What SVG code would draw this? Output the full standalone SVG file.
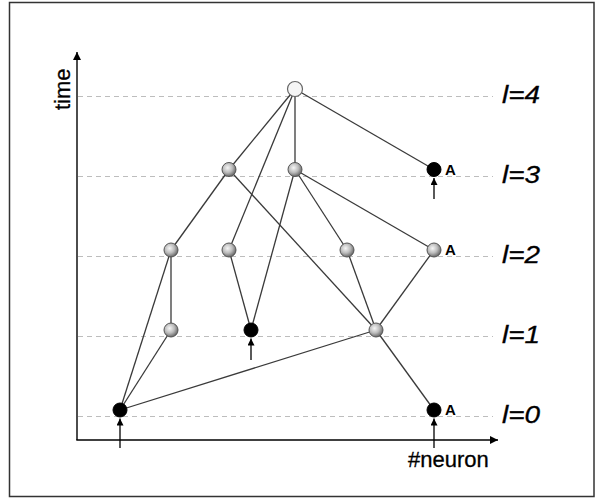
<svg xmlns="http://www.w3.org/2000/svg" width="598" height="498" viewBox="0 0 598 498">
  <style>
    .frame { fill: #ffffff; stroke: #333333; stroke-width: 1.5; }
    .axis { stroke: #000000; stroke-width: 1.4; fill: none; }
    .level { stroke: #bdbdbd; stroke-width: 1; stroke-dasharray: 5 4; fill: none; }
    .edge { stroke: #3a3a3a; stroke-width: 1.3; fill: none; }
    .input { stroke: #000000; stroke-width: 1.3; fill: none; }
    .gray { fill: url(#ball); stroke: #555555; stroke-width: 1; }
    .black { fill: #000000; stroke: #000000; stroke-width: 1; }
    .white { fill: #f6f6f6; stroke: #666666; stroke-width: 1.2; }
    .axislabel { font-family: "Liberation Sans", Arial, sans-serif; font-size: 22px; fill: #000000; stroke: #000000; stroke-width: 0.3; }
    .lvl { font-family: "Liberation Sans", Arial, sans-serif; font-size: 23px; font-style: italic; fill: #000000; stroke: #000000; stroke-width: 0.3; }
    .tag { font-family: "Liberation Sans", Arial, sans-serif; font-size: 15px; font-weight: bold; fill: #000000; }
  </style>
  <defs>
    <radialGradient id="ball" cx="0.4" cy="0.38" r="0.62">
      <stop offset="0" stop-color="#f6f6f6"/>
      <stop offset="0.55" stop-color="#bcbcbc"/>
      <stop offset="1" stop-color="#6a6a6a"/>
    </radialGradient>
    <marker id="axisHead" viewBox="0 0 10 10" refX="10" refY="5" markerWidth="10" markerHeight="8" markerUnits="userSpaceOnUse" orient="auto">
      <path d="M0,0 L10,5 L0,10 Z" fill="#000000"/>
    </marker>
    <marker id="inHead" viewBox="0 0 10 10" refX="10" refY="5" markerWidth="8" markerHeight="7" markerUnits="userSpaceOnUse" orient="auto">
      <path d="M0,0 L10,5 L0,10 Z" fill="#000000"/>
    </marker>
  </defs>

  <rect class="frame" x="9.5" y="2.5" width="584.5" height="494"/>

  <!-- time levels -->
  <g id="levels">
    <line class="level" x1="78" y1="96.5" x2="493" y2="96.5"/>
    <line class="level" x1="78" y1="176.5" x2="493" y2="176.5"/>
    <line class="level" x1="78" y1="256.5" x2="493" y2="256.5"/>
    <line class="level" x1="78" y1="336.5" x2="493" y2="336.5"/>
    <line class="level" x1="78" y1="416.5" x2="493" y2="416.5"/>
    <text class="lvl" x="502" y="103" textLength="38" lengthAdjust="spacingAndGlyphs">l=4</text>
    <text class="lvl" x="502" y="183" textLength="38" lengthAdjust="spacingAndGlyphs">l=3</text>
    <text class="lvl" x="502" y="263" textLength="38" lengthAdjust="spacingAndGlyphs">l=2</text>
    <text class="lvl" x="502" y="343" textLength="38" lengthAdjust="spacingAndGlyphs">l=1</text>
    <text class="lvl" x="502" y="423" textLength="38" lengthAdjust="spacingAndGlyphs">l=0</text>
  </g>

  <!-- axes -->
  <g id="axes">
    <line class="axis" x1="77" y1="440" x2="77" y2="52" marker-end="url(#axisHead)"/>
    <line class="axis" x1="76.3" y1="440" x2="498" y2="440" marker-end="url(#axisHead)"/>
    <text class="axislabel" transform="translate(70,110) rotate(-90)">time</text>
    <text class="axislabel" x="408" y="467">#neuron</text>
  </g>

  <!-- connectors -->
  <g id="connectors">
    <line class="edge" x1="295" y1="89" x2="229" y2="169.5"/>
    <line class="edge" x1="295" y1="89" x2="229" y2="250"/>
    <line class="edge" x1="295" y1="89" x2="295" y2="169.5"/>
    <line class="edge" x1="295" y1="89" x2="434" y2="169.5"/>
    <line class="edge" x1="229" y1="169.5" x2="171" y2="250"/>
    <line class="edge" x1="229" y1="169.5" x2="376" y2="330"/>
    <line class="edge" x1="295" y1="169.5" x2="251" y2="330"/>
    <line class="edge" x1="295" y1="169.5" x2="347" y2="250"/>
    <line class="edge" x1="295" y1="169.5" x2="434" y2="250"/>
    <line class="edge" x1="171" y1="250" x2="171" y2="330"/>
    <line class="edge" x1="171" y1="250" x2="120" y2="410"/>
    <line class="edge" x1="229" y1="250" x2="251" y2="330"/>
    <line class="edge" x1="347" y1="250" x2="376" y2="330"/>
    <line class="edge" x1="434" y1="250" x2="376" y2="330"/>
    <line class="edge" x1="171" y1="330" x2="120" y2="410"/>
    <line class="edge" x1="376" y1="330" x2="120" y2="410"/>
    <line class="edge" x1="376" y1="330" x2="434" y2="410"/>
    <!-- external inputs -->
    <line class="input" x1="120" y1="448" x2="120" y2="418.5" marker-end="url(#inHead)"/>
    <line class="input" x1="434" y1="448" x2="434" y2="418.5" marker-end="url(#inHead)"/>
    <line class="input" x1="251" y1="360" x2="251" y2="338.5" marker-end="url(#inHead)"/>
    <line class="input" x1="434" y1="199" x2="434" y2="178" marker-end="url(#inHead)"/>
  </g>

  <!-- nodes -->
  <g id="n4"><circle class="white" cx="295" cy="89" r="7.5"/></g>
  <g id="n3a"><circle class="gray" cx="229" cy="169.5" r="7"/></g>
  <g id="n3b"><circle class="gray" cx="295" cy="169.5" r="7"/></g>
  <g id="n3c"><circle class="black" cx="434" cy="169.5" r="7"/><text class="tag" x="445" y="175">A</text></g>
  <g id="n2a"><circle class="gray" cx="171" cy="250" r="7"/></g>
  <g id="n2b"><circle class="gray" cx="229" cy="250" r="7"/></g>
  <g id="n2c"><circle class="gray" cx="347" cy="250" r="7"/></g>
  <g id="n2d"><circle class="gray" cx="434" cy="250" r="7"/><text class="tag" x="445" y="255">A</text></g>
  <g id="n1a"><circle class="gray" cx="171" cy="330" r="7"/></g>
  <g id="n1b"><circle class="black" cx="251" cy="330" r="7"/></g>
  <g id="n1c"><circle class="gray" cx="376" cy="330" r="7"/></g>
  <g id="n0a"><circle class="black" cx="120" cy="410" r="7"/></g>
  <g id="n0b"><circle class="black" cx="434" cy="410" r="7"/><text class="tag" x="445" y="415">A</text></g>
</svg>
